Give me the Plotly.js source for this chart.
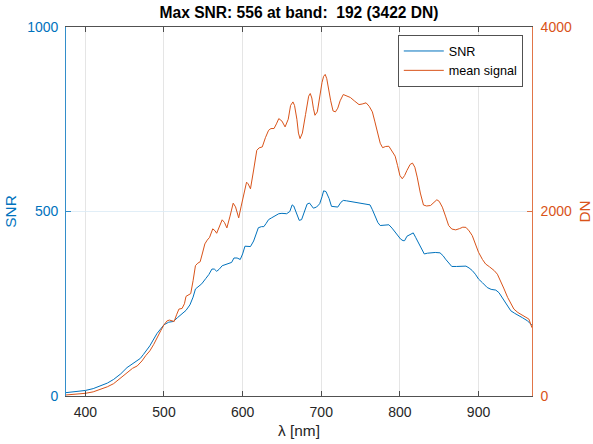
<!DOCTYPE html>
<html>
<head>
<meta charset="utf-8">
<script src="https://cdn.plot.ly/plotly-3.0.1.min.js"></script>
<style>html,body{margin:0;padding:0;background:#fff;}#chart{width:593px;height:444px;}</style>
</head>
<body>
<div id="chart"></div>
<script>
// SNR series (wavelength in nm, SNR)
const snrWavelength = [375,385,400,410,419,428,436,445,453,460,465,470,474,482,491,500,506,512,517,523,528,533,537,540,544,548,553,557,561,564,567,570,574,578,582,586,589,593,597,600,603,607,610,614,618,620,624,627,630,633,637,642,646,650,656,660,663,665,668,672,675,679,682,685,688,690,694,698,701,703,706,710,713,718,721,725,728,732,740,746,752,758,762,765,768,772,775,780,786,790,794,798,801,804,806,809,812,817,820,824,828,831,835,839,845,851,855,858,862,866,872,878,884,888,892,896,900,905,911,916,922,926,930,934,938,941,946,951,956,962,968];
const snrValues = [9,11,15,20,27,35,45,60,77,88,95,102,113,136,169,193,200,202,212,222,232,247,268,290,297,304,318,329,344,344,338,343,353,356,358,362,374,374,370,385,406,406,405,420,448,456,459,459,468,478,483,489,494,495,494,500,518,515,498,476,478,500,520,523,515,509,512,521,540,556,554,535,514,512,512,525,530,529,526,524,521,519,518,505,490,470,462,463,464,455,444,433,425,421,421,433,437,442,430,412,396,385,387,388,389,388,380,371,360,351,351,351,352,347,340,330,317,307,294,289,287,280,267,255,240,231,224,217,212,204,192];

// Mean signal series (wavelength in nm, DN)
const dnWavelength = [375,385,400,410,419,428,436,445,453,460,466,472,477,482,487,491,496,500,504,507,510,513,516,519,523,526,528,531,534,537,540,543,546,549,552,555,558,562,565,567,570,574,577,580,584,588,591,595,598,601,605,607,610,614,618,621,625,629,633,636,640,643,646,650,654,658,661,664,666,669,671,673,676,680,684,686,688,690,692,695,698,701,703,705,707,709,712,715,718,721,724,728,732,737,742,748,752,757,761,765,768,771,775,778,782,786,790,794,797,800,803,806,809,813,816,819,822,826,830,834,839,843,847,850,854,858,862,866,871,876,880,884,888,892,896,900,905,909,914,920,924,928,932,937,941,945,950,956,960,964,968];
const dnValues = [11,18,29,45,72,100,134,200,254,300,326,380,440,489,560,634,710,772,815,823,815,808,880,942,949,1000,1080,1100,1110,1250,1413,1440,1455,1550,1649,1690,1720,1812,1790,1764,1830,1910,1880,1822,1950,2090,2050,1931,2050,2155,2318,2300,2246,2450,2663,2690,2700,2800,2880,2899,2900,2950,3007,2980,2917,3000,3150,3188,3150,3000,2850,2790,2850,3050,3250,3279,3230,3120,3043,3080,3250,3400,3465,3486,3440,3330,3200,3090,3080,3120,3200,3268,3250,3236,3200,3159,3165,3178,3140,3080,2980,2862,2740,2692,2705,2707,2660,2600,2500,2391,2355,2390,2446,2510,2525,2480,2373,2200,2070,2060,2065,2100,2127,2110,2047,1950,1848,1810,1801,1815,1830,1828,1790,1739,1650,1558,1480,1431,1400,1359,1320,1250,1170,1069,1000,942,905,877,860,834,740];

const xTicks = [400,500,600,700,800,900];
const snrTicks = [0,500,1000];
const dnTicks = [0,2000,4000];
const titleText = "Max SNR: 556 at band:\u00a0 192 (3422 DN)";

const blue = '#0072BD';
const orange = '#D95319';
const dark = '#262626';
const font = '"Liberation Sans", Arial, Helvetica, sans-serif';

const traces = [
  {x: snrWavelength, y: snrValues, type: 'scatter', mode: 'lines', name: 'SNR',
   line: {color: blue, width: 1}, yaxis: 'y'},
  {x: dnWavelength, y: dnValues, type: 'scatter', mode: 'lines', name: 'mean signal',
   line: {color: orange, width: 1}, yaxis: 'y2'}
];

const layout = {
  width: 593, height: 444,
  margin: {l: 66, r: 61, t: 27, b: 48, pad: 0},
  paper_bgcolor: '#fff', plot_bgcolor: '#fff',
  font: {family: font, size: 14, color: dark},
  title: {text: '<b>' + titleText + '</b>', font: {family: font, size: 15.6, color: '#000'},
          x: 0.5, xref: 'paper', xanchor: 'center', y: 0.9707, yref: 'container', yanchor: 'middle'},
  showlegend: true,
  legend: {x: 0.9807, xanchor: 'right', y: 0.977, yanchor: 'top', bgcolor: '#fff',
           bordercolor: dark, borderwidth: 0.8, font: {family: font, size: 12.6, color: '#000'},
           tracegroupgap: 0, itemwidth: 40},
  xaxis: {range: [375.4, 968], tickvals: xTicks, ticktext: xTicks.map(String),
          ticks: 'inside', ticklen: 5, tickcolor: dark, tickwidth: 0.8,
          showline: true, linecolor: dark, linewidth: 0.8, mirror: 'ticks',
          showgrid: true, gridcolor: '#dfdfdf', gridwidth: 0.8, zeroline: false,
          ticklabelstandoff: 3,
          tickfont: {family: font, size: 14, color: dark},
          title: {text: 'λ [nm]', font: {family: font, size: 15.4, color: dark}, standoff: 6}},
  yaxis: {range: [0, 1000], tickvals: snrTicks, ticktext: snrTicks.map(String),
          ticks: 'inside', ticklen: 5, tickcolor: blue, tickwidth: 0.8,
          showline: true, linecolor: blue, linewidth: 0.8, mirror: false,
          showgrid: true, gridcolor: '#d9eaf5', gridwidth: 0.8, zeroline: false,
          ticklabelstandoff: 4,
          tickfont: {family: font, size: 14, color: blue},
          title: {text: 'SNR', font: {family: font, size: 15.4, color: blue}, standoff: 6}},
  yaxis2: {range: [0, 4000], tickvals: dnTicks, ticktext: dnTicks.map(String),
          overlaying: 'y', side: 'right', anchor: 'x',
          ticks: 'inside', ticklen: 5, tickcolor: orange, tickwidth: 0.8,
          showline: true, linecolor: orange, linewidth: 0.8,
          showgrid: false, zeroline: false,
          ticklabelstandoff: 5,
          tickfont: {family: font, size: 14, color: orange},
          title: {text: 'DN', font: {family: font, size: 15.4, color: orange}, standoff: 10}}
};

Plotly.newPlot('chart', traces, layout, {displayModeBar: false, staticPlot: true});
</script>
</body>
</html>
